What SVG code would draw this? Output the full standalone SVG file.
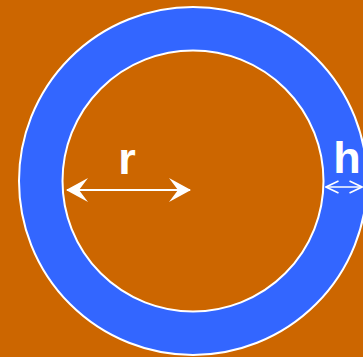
<svg xmlns="http://www.w3.org/2000/svg" width="363" height="357" viewBox="0 0 363 357">
<style>
.ring{stroke:#fff;stroke-width:2}
.lbl{font-family:"Liberation Sans",Arial,sans-serif;font-weight:bold;font-size:45px;fill:#fff;text-anchor:middle}
.dim{stroke:#fff;fill:none}
</style>
<defs>
<marker id="big" viewBox="0 0 24 26" refX="22" refY="13" markerWidth="24" markerHeight="26" markerUnits="userSpaceOnUse" orient="auto-start-reverse">
<path d="M23,13 L1,1 L10,13 L1,25 Z" fill="#fff"/>
</marker>
<marker id="small" viewBox="0 0 16 16" refX="14.5" refY="8" markerWidth="16" markerHeight="16" markerUnits="userSpaceOnUse" orient="auto-start-reverse">
<path d="M2,2 L14.5,8 L2,14" fill="none" stroke="#fff" stroke-width="1.6"/>
</marker>
</defs>
<rect width="363" height="357" fill="#CC6600"/>
<g id="outer"><circle class="ring" cx="193" cy="181" r="174" fill="#3366FF"/></g>
<g id="inner"><circle class="ring" cx="193" cy="181" r="130.5" fill="#CC6600"/></g>
<g id="connectors">
<line class="dim" x1="67" y1="190" x2="190" y2="190" stroke-width="2" marker-start="url(#big)" marker-end="url(#big)"/>
<line class="dim" x1="326" y1="187" x2="362" y2="187" stroke-width="1.5" marker-start="url(#small)" marker-end="url(#small)"/>
</g>
<g id="labels">
<text class="lbl" x="127" y="174">r</text>
<text class="lbl" x="347" y="173">h</text>
</g>
</svg>
